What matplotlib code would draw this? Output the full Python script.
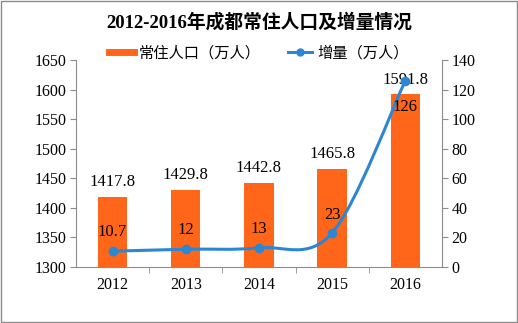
import matplotlib
matplotlib.use("Agg")
import matplotlib.pyplot as plt
from matplotlib.path import Path
from matplotlib.patches import PathPatch, Rectangle
from matplotlib.lines import Line2D

# Data
years = ["2012", "2013", "2014", "2015", "2016"]
population = [1417.8, 1429.8, 1442.8, 1465.8, 1591.8]
increase = [10.7, 12, 13, 23, 126]
left_ticks = [1300, 1350, 1400, 1450, 1500, 1550, 1600, 1650]
right_ticks = [0, 20, 40, 60, 80, 100, 120, 140]

ORANGE = "#FF6619"
BLUE = "#2B87D3"
GRAY = "#8C8C8C"
FONT = ["Liberation Serif", "Noto Sans CJK SC"]

plt.rcParams["font.family"] = FONT


def smooth_path(xs, ys):
    # Catmull-Rom style bezier, like a spreadsheet "smoothed line"
    pts = list(zip(xs, ys))
    verts = [pts[0]]
    codes = [Path.MOVETO]
    n = len(pts)
    for i in range(n - 1):
        p0 = pts[i - 1] if i > 0 else pts[i]
        p1 = pts[i]
        p2 = pts[i + 1]
        p3 = pts[i + 2] if i + 2 < n else pts[i + 1]
        c1 = (p1[0] + (p2[0] - p0[0]) / 6, p1[1] + (p2[1] - p0[1]) / 6)
        c2 = (p2[0] - (p3[0] - p1[0]) / 6, p2[1] - (p3[1] - p1[1]) / 6)
        verts += [c1, c2, p2]
        codes += [Path.CURVE4] * 3
    return Path(verts, codes)


fig = plt.figure(figsize=(5.18, 3.23), dpi=100)
fig.patches.append(Rectangle((0.001, 0.002), 0.997, 0.995, transform=fig.transFigure,
                             fill=False, edgecolor=GRAY, linewidth=1))

ax = fig.add_axes([0.1467, 0.1734, 0.7063, 0.6406])
x = list(range(len(years)))
ax.bar(x, population, width=0.4, color=ORANGE, zorder=2)
ax.set_ylim(1300, 1650)
ax.set_xlim(-0.5, len(years) - 0.5)
ax.set_yticks(left_ticks)
ax.set_xticks(x)
ax.set_xticklabels(years)
ax.set_xticks([i + 0.5 for i in range(len(years) - 1)], minor=True)
ax.tick_params(axis="x", which="major", length=0, pad=7, labelsize=11.5)
ax.tick_params(axis="x", which="minor", length=4, color=GRAY, direction="out")
ax.tick_params(axis="y", length=4, color=GRAY, labelsize=11.5, pad=3)
for side in ["top", "right"]:
    ax.spines[side].set_visible(False)
for side in ["left", "bottom"]:
    ax.spines[side].set_color(GRAY)

for xi, v in zip(x, population):
    ax.annotate(f"{v:.1f}", (xi, v), xytext=(0, 5), textcoords="offset points",
                ha="center", va="bottom", fontsize=12)

ax2 = ax.twinx()
ax2.set_ylim(0, 140)
ax2.set_yticks(right_ticks)
ax2.tick_params(axis="y", length=4, color=GRAY, labelsize=11.5, pad=3)
for side in ["top", "left", "bottom"]:
    ax2.spines[side].set_visible(False)
ax2.spines["right"].set_color(GRAY)

ax2.add_patch(PathPatch(smooth_path(x, increase), facecolor="none",
                        edgecolor=BLUE, linewidth=2.2, zorder=3))
ax2.plot(x, increase, linestyle="none", marker="o", markersize=6,
         color=BLUE, zorder=4)

offsets = [(0, 8), (0, 8), (0, 8), (0, 7), (0, -25)]
for xi, v, off in zip(x, increase, offsets):
    ax2.annotate(f"{v:g}", (xi, v), xytext=off, textcoords="offset points",
                 ha="center", va="bottom", fontsize=12)

fig.text(0.5, 0.93, "2012-2016年成都常住人口及增量情况", ha="center", va="center",
         fontsize=13.5, fontweight="bold")

handles = [Line2D([], [], color=ORANGE, linewidth=5),
           Line2D([], [], color=BLUE, linewidth=2.2, marker="o", markersize=5)]
fig.legend(handles, ["常住人口（万人）", "增量（万人）"], loc="center",
           bbox_to_anchor=(0.5, 0.835), ncol=2, frameon=False, fontsize=11,
           handlelength=1.6, columnspacing=1.8, handletextpad=0.3)

fig.savefig("out.png", dpi=100)
